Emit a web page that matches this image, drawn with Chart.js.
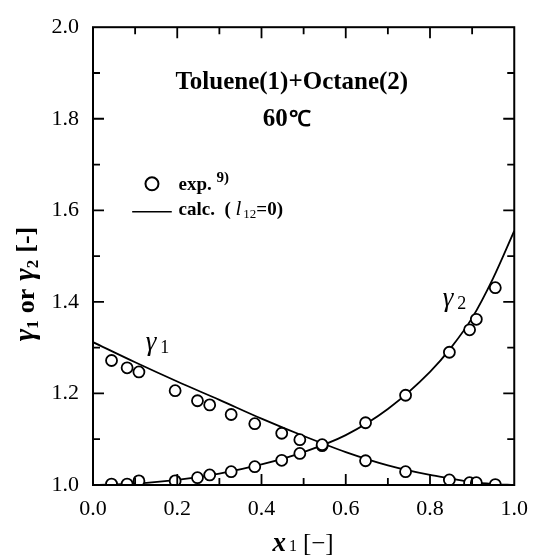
<!DOCTYPE html>
<html><head><meta charset="utf-8">
<script src="https://cdn.jsdelivr.net/npm/chart.js@4/dist/chart.umd.min.js"></script>
<style>html,body{margin:0;padding:0;background:#fff;}#wrap{width:539px;height:555px;}</style>
</head><body><div id="wrap"><canvas id="c" width="539" height="555"></canvas></div>
<script>
// Experimental data (exp. 9)
const expX1     = [0.044,0.081,0.109,0.195,0.248,0.277,0.328,0.384,0.448,0.491,0.544,0.647,0.742,0.846,0.894,0.910,0.955];
const expGamma1 = [1.272,1.256,1.247,1.206,1.184,1.175,1.154,1.134,1.113,1.099,1.088,1.053,1.029,1.011,1.005,1.005,1.001];
const expGamma2 = [1.002,1.002,1.009,1.009,1.016,1.022,1.029,1.040,1.054,1.069,1.086,1.136,1.196,1.290,1.339,1.362,1.431];
// Calculated curves (l12 = 0)
const calcX1     = [0,0.1,0.2,0.3,0.4,0.5,0.6,0.7,0.8,0.85,0.9,0.95,1.0];
const calcGamma1 = [1.312,1.268,1.226,1.186,1.145,1.107,1.072,1.043,1.022,1.014,1.006,1.002,1.000];
const calcGamma2 = [1.000,1.003,1.011,1.025,1.045,1.072,1.109,1.166,1.247,1.300,1.365,1.452,1.555];
const xTickLabels = ['0.0','0.2','0.4','0.6','0.8','1.0'];
const yTickLabels = ['1.0','1.2','1.4','1.6','1.8','2.0'];

const SERIF = "'Liberation Serif','Times New Roman',serif";
const pts = (xs, ys) => xs.map((x, i) => ({x: x, y: ys[i]}));

function runs(ctx, x, y, list, align) {
  let w = 0;
  list.forEach(r => { ctx.font = r.f; r.w = ctx.measureText(r.t).width; w += r.w + (r.g || 0); });
  let cx = align === 'center' ? x - w / 2 : x;
  list.forEach(r => { ctx.font = r.f; ctx.fillText(r.t, cx, y + (r.dy || 0)); cx += r.w + (r.g || 0); });
}

const decor = {
  id: 'decor',
  afterDatasetsDraw(chart) {
    const ctx = chart.ctx, a = chart.chartArea;
    const xs = chart.scales.x, ys = chart.scales.y;
    ctx.save();
    ctx.strokeStyle = '#000'; ctx.lineWidth = 2;
    ctx.strokeRect(a.left, a.top, a.right - a.left, a.bottom - a.top);
    ctx.lineWidth = 1.8;
    ctx.beginPath();
    for (let i = 1; i < 10; i++) {
      const len = i % 2 === 0 ? 11 : 7;
      const px = xs.getPixelForValue(i / 10);
      ctx.moveTo(px, a.bottom); ctx.lineTo(px, a.bottom - len);
      ctx.moveTo(px, a.top); ctx.lineTo(px, a.top + len);
      const py = ys.getPixelForValue(1 + i / 10);
      ctx.moveTo(a.left, py); ctx.lineTo(a.left + len, py);
      ctx.moveTo(a.right, py); ctx.lineTo(a.right - len, py);
    }
    ctx.stroke();

    ctx.fillStyle = '#000';
    ctx.textBaseline = 'alphabetic';
    // Title
    runs(ctx, xs.getPixelForValue(0.472), ys.getPixelForValue(1.866), [{t: 'Toluene(1)+Octane(2)', f: 'bold 25px ' + SERIF}], 'center');
    runs(ctx, xs.getPixelForValue(0.46), ys.getPixelForValue(1.784), [
      {t: '60', f: 'bold 25px ' + SERIF, g: 1},
      {t: '℃', f: 'bold 22px ' + SERIF}], 'center');
    // Legend
    const lx = xs.getPixelForValue(0.14), ly = ys.getPixelForValue(1.658);
    ctx.beginPath(); ctx.lineWidth = 2; ctx.arc(lx, ly, 6.5, 0, Math.PI * 2); ctx.stroke();
    const tx = xs.getPixelForValue(0.203);
    runs(ctx, tx, ly + 6, [
      {t: 'exp. ', f: 'bold 19px ' + SERIF},
      {t: '9)', f: 'bold 15px ' + SERIF, dy: -8}]);
    const ly2 = ys.getPixelForValue(1.597);
    ctx.beginPath(); ctx.lineWidth = 1.6;
    ctx.moveTo(xs.getPixelForValue(0.093), ly2); ctx.lineTo(xs.getPixelForValue(0.187), ly2); ctx.stroke();
    runs(ctx, tx, ly2 + 3, [
      {t: 'calc.  ( ', f: 'bold 19px ' + SERIF},
      {t: 'l', f: 'italic 21px ' + SERIF, g: 2},
      {t: '12', f: '13px ' + SERIF, dy: 3},
      {t: '=0)', f: 'bold 19px ' + SERIF}]);
    // curve labels
    runs(ctx, xs.getPixelForValue(0.125), ys.getPixelForValue(1.295), [
      {t: 'γ', f: 'italic 27px ' + SERIF, g: 4},
      {t: '1', f: '18px ' + SERIF, dy: 3}]);
    runs(ctx, xs.getPixelForValue(0.83), ys.getPixelForValue(1.39), [
      {t: 'γ', f: 'italic 27px ' + SERIF, g: 4},
      {t: '2', f: '18px ' + SERIF, dy: 3}]);
    // x axis title
    runs(ctx, 303, 551, [
      {t: 'x', f: 'bold italic 27px ' + SERIF, g: 3},
      {t: '1', f: '16px ' + SERIF, dy: 0, g: 6},
      {t: '[−]', f: '25px ' + SERIF}], 'center');
    // y axis title
    ctx.save();
    ctx.translate(34, 284); ctx.rotate(-Math.PI / 2);
    runs(ctx, 0, 0, [
      {t: 'γ', f: 'bold italic 30px ' + SERIF},
      {t: '1', f: 'bold 17px ' + SERIF, dy: 4, g: 7},
      {t: 'or', f: 'bold 26px ' + SERIF, g: 8},
      {t: 'γ', f: 'bold italic 30px ' + SERIF},
      {t: '2', f: 'bold 17px ' + SERIF, dy: 4, g: 7},
      {t: '[-]', f: 'bold 26px ' + SERIF}], 'center');
    ctx.restore();
    ctx.restore();
  }
};

new Chart(document.getElementById('c'), {
  type: 'scatter',
  data: {
    datasets: [
      {label: 'exp g1', data: pts(expX1, expGamma1), order: 0, pointRadius: 5.5, borderWidth: 1.8,
       borderColor: '#000', backgroundColor: '#fff', pointHoverRadius: 5.5},
      {label: 'exp g2', data: pts(expX1, expGamma2), order: 0, pointRadius: 5.5, borderWidth: 1.8,
       borderColor: '#000', backgroundColor: '#fff', pointHoverRadius: 5.5},
      {label: 'calc g1', type: 'line', data: pts(calcX1, calcGamma1), order: 1, showLine: true,
       pointRadius: 0, borderWidth: 1.8, borderColor: '#000', fill: false, cubicInterpolationMode: 'monotone'},
      {label: 'calc g2', type: 'line', data: pts(calcX1, calcGamma2), order: 1, showLine: true,
       pointRadius: 0, borderWidth: 1.8, borderColor: '#000', fill: false, cubicInterpolationMode: 'monotone'}
    ]
  },
  options: {
    responsive: false, animation: false,
    layout: {padding: {top: 23, right: 18, left: 0, bottom: 0}},
    plugins: {legend: {display: false}, tooltip: {enabled: false}},
    scales: {
      x: {type: 'linear', min: 0, max: 1,
          grid: {display: false, drawTicks: false}, border: {display: false},
          afterFit(s) { s.height = 70; },
          afterBuildTicks(s) { s.ticks = xTickLabels.map(v => ({value: parseFloat(v)})); },
          ticks: {padding: 11, color: '#000', font: {family: SERIF, size: 22},
                  callback: (v) => xTickLabels.find(t => parseFloat(t) === v)}},
      y: {type: 'linear', min: 1, max: 2,
          grid: {display: false, drawTicks: false}, border: {display: false},
          afterFit(s) { s.width = 93; },
          afterBuildTicks(s) { s.ticks = yTickLabels.map(v => ({value: parseFloat(v)})); },
          ticks: {padding: 14, color: '#000', font: {family: SERIF, size: 22},
                  callback: (v) => yTickLabels.find(t => parseFloat(t) === v)}}
    }
  },
  plugins: [decor]
});
</script></body></html>
